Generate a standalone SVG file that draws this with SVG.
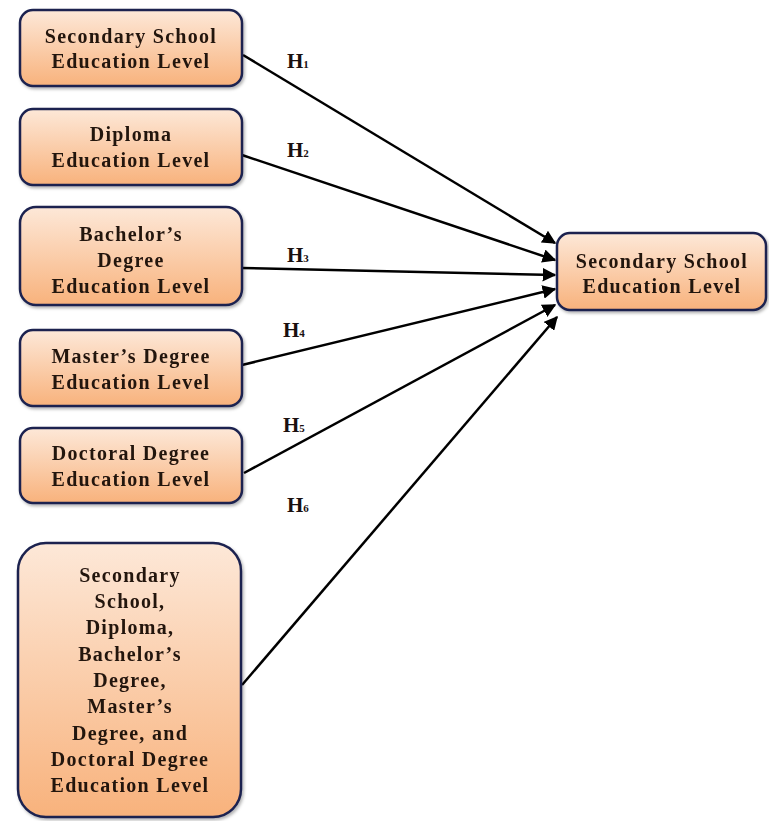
<svg xmlns="http://www.w3.org/2000/svg" width="769" height="821" viewBox="0 0 769 821">
<style>
.box{fill:url(#g);stroke:#1c2350;stroke-width:2.5}
.t{font-family:"Liberation Serif",serif;font-weight:bold;font-size:20px;fill:#24150e;text-anchor:middle;letter-spacing:1.3px}
.h{font-family:"Liberation Serif",serif;font-weight:bold;font-size:21px;fill:#1a1010}
.s{font-size:11px}
.c{stroke:#000;stroke-width:2.5;fill:none;marker-end:url(#a)}
</style>
<defs>
<linearGradient id="g" x1="0" y1="0" x2="0" y2="1">
<stop offset="0" stop-color="#fde8d8"/>
<stop offset="1" stop-color="#f8b27c"/>
</linearGradient>
<marker id="a" viewBox="0 0 10 10" refX="9" refY="5" markerWidth="5.5" markerHeight="5.5" orient="auto" markerUnits="strokeWidth">
<path d="M0,0 L10,5 L0,10 z" fill="#000"/>
</marker>
<filter id="sh" x="-10%" y="-10%" width="130%" height="130%">
<feDropShadow dx="1.5" dy="2" stdDeviation="1.5" flood-color="#000" flood-opacity="0.3"/>
</filter>
</defs>
<g id="connectors">
<line class="c" x1="243" y1="55" x2="555" y2="243"/>
<line class="c" x1="242" y1="155" x2="555" y2="260"/>
<line class="c" x1="242" y1="268" x2="555" y2="275"/>
<line class="c" x1="242" y1="365" x2="555" y2="289"/>
<line class="c" x1="244" y1="473" x2="555" y2="305"/>
<line class="c" x1="242" y1="685" x2="557" y2="317"/>
</g>
<g id="labels">
<text class="h" x="287" y="68">H<tspan class="s">1</tspan></text>
<text class="h" x="287" y="157">H<tspan class="s">2</tspan></text>
<text class="h" x="287" y="262">H<tspan class="s">3</tspan></text>
<text class="h" x="283" y="337">H<tspan class="s">4</tspan></text>
<text class="h" x="283" y="432">H<tspan class="s">5</tspan></text>
<text class="h" x="287" y="512">H<tspan class="s">6</tspan></text>
</g>
<g id="n1" filter="url(#sh)">
<rect class="box" x="20" y="10" width="222" height="76" rx="13"/>
<text class="t" x="131" y="43">Secondary School</text>
<text class="t" x="131" y="68">Education Level</text>
</g>
<g id="n2" filter="url(#sh)">
<rect class="box" x="20" y="109" width="222" height="76" rx="13"/>
<text class="t" x="131" y="141">Diploma</text>
<text class="t" x="131" y="167">Education Level</text>
</g>
<g id="n3" filter="url(#sh)">
<rect class="box" x="20" y="207" width="222" height="98" rx="16"/>
<text class="t" x="131" y="241">Bachelor’s</text>
<text class="t" x="131" y="267">Degree</text>
<text class="t" x="131" y="293">Education Level</text>
</g>
<g id="n4" filter="url(#sh)">
<rect class="box" x="20" y="330" width="222" height="76" rx="13"/>
<text class="t" x="131" y="363">Master’s Degree</text>
<text class="t" x="131" y="389">Education Level</text>
</g>
<g id="n5" filter="url(#sh)">
<rect class="box" x="20" y="428" width="222" height="75" rx="13"/>
<text class="t" x="131" y="460">Doctoral Degree</text>
<text class="t" x="131" y="486">Education Level</text>
</g>
<g id="n6" filter="url(#sh)">
<rect class="box" x="18" y="543" width="223" height="274" rx="28"/>
<text class="t" x="130" y="582">Secondary</text>
<text class="t" x="130" y="608">School,</text>
<text class="t" x="130" y="634">Diploma,</text>
<text class="t" x="130" y="661">Bachelor’s</text>
<text class="t" x="130" y="687">Degree,</text>
<text class="t" x="130" y="713">Master’s</text>
<text class="t" x="130" y="740">Degree, and</text>
<text class="t" x="130" y="766">Doctoral Degree</text>
<text class="t" x="130" y="792">Education Level</text>
</g>
<g id="target" filter="url(#sh)">
<rect class="box" x="557" y="233" width="209" height="77" rx="13"/>
<text class="t" x="662" y="268">Secondary School</text>
<text class="t" x="662" y="293">Education Level</text>
</g>
</svg>
